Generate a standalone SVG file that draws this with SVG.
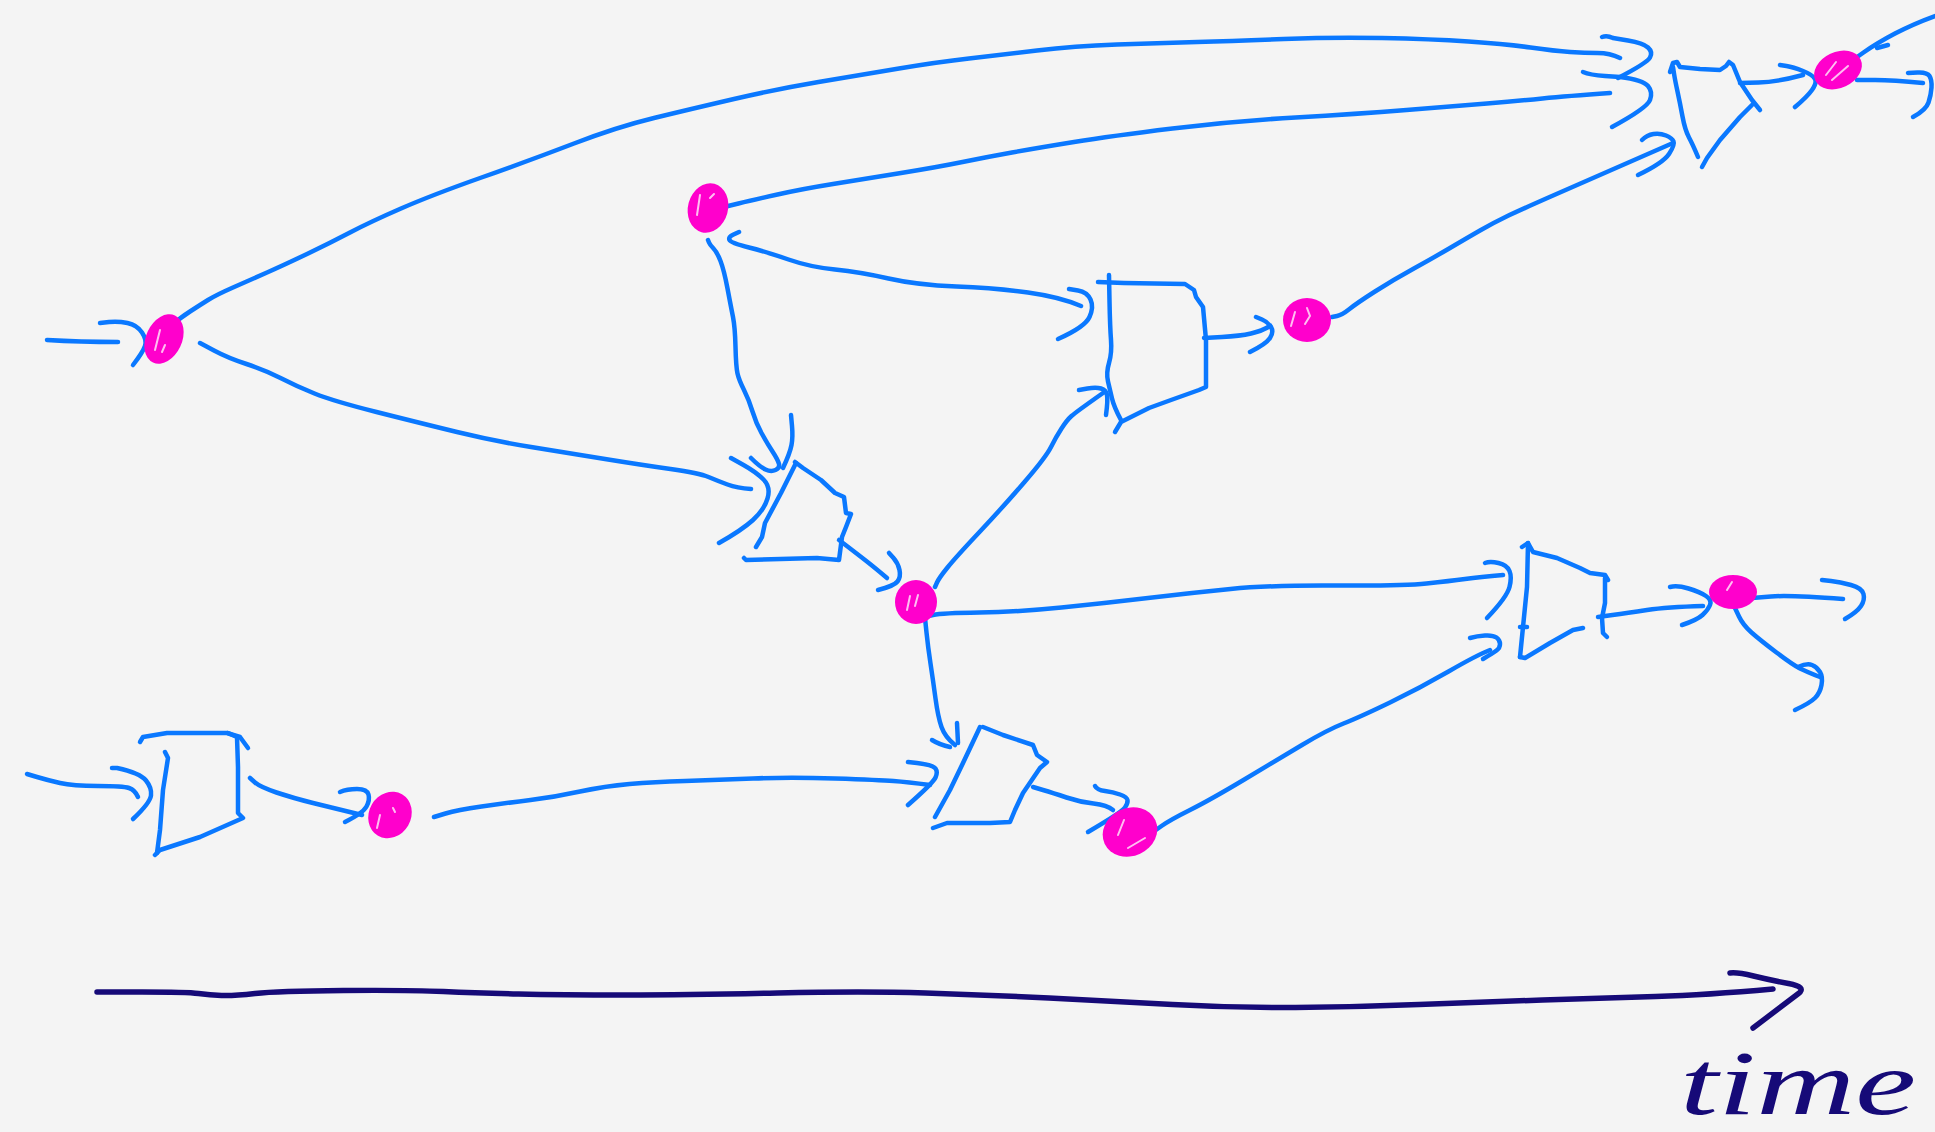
<svg xmlns="http://www.w3.org/2000/svg" width="1935" height="1132" viewBox="0 0 1935 1132">
<style>
.s{fill:none;stroke:#0a78ff;stroke-width:4.5;stroke-linecap:round;stroke-linejoin:round}
.n{fill:#ff00cc}
.h{fill:none;stroke:#ffffff;stroke-width:2;stroke-linecap:round;opacity:.75}
.t{fill:none;stroke:#160a78;stroke-width:5.5;stroke-linecap:round;stroke-linejoin:round}
</style>
<rect width="1935" height="1132" fill="#f4f4f4"/>

<g id="connectors">
  <path class="s" d="M47,340 Q80,342 118,342"/>
  <path class="s" d="M100,323 L109,322 Q118,321 127.5,323 Q137,325 142,332.5 Q147,340 145,346 Q143,352 133,365"/>
  <path class="s" d="M167,330 L173.5,324 Q180,318 190,311.5 Q200,305 208,300 Q216,295 233,287.5 Q250,280 267,272.5 Q284,265 307,254 Q330,243 350,232.5 Q370,222 401,208.5 Q432,195 481.5,177.5 Q531,160 574,143.5 Q617,127 654,118 Q691,109 734,99 Q777,89 818.5,82 Q860,75 899,68.5 Q938,62 969,58.5 Q1000,55 1037,50.5 Q1074,46 1117,44.5 Q1160,43 1197,42 Q1234,41 1283.5,39 Q1333,37 1382,38 Q1431,39 1468.5,41.5 Q1506,44 1530.5,47.5 Q1555,51 1570,52 Q1585,53 1597.5,53 Q1610,53 1620,58"/>
  <path class="s" d="M1602,37 Q1607,35 1613,38 L1628,40.5 Q1643,43 1648,47.5 Q1653,52 1650,57.5 Q1647,63 1618,78"/>
  <path class="s" d="M724,207 L738.5,203.5 Q753,200 777.5,194.5 Q802,189 833,184 Q864,179 901,173 Q938,167 962.5,162 Q987,157 1012,152.5 Q1037,148 1074,142 Q1111,136 1172.5,128.5 Q1234,121 1295.5,117.5 Q1357,114 1406.5,110 Q1456,106 1487,103.5 Q1518,101 1542.5,98.5 Q1567,96 1610,93"/>
  <path class="s" d="M1583,72 Q1590,75 1605,76 L1620,77 Q1643,80 1648,86 Q1653,92 1650,100 Q1647,108 1612,127"/>
  <path class="s" d="M1332,317 L1337,316 Q1342,315 1349.5,309 Q1357,303 1375,291.5 Q1393,280 1413,269 Q1433,258 1450,248 Q1467,238 1480,230.5 Q1493,223 1506.5,216.5 Q1520,210 1556.5,194 Q1593,178 1673,143"/>
  <path class="s" d="M1642,140 Q1647,135 1653.5,134 Q1660,133 1666,135.5 Q1672,138 1673.5,141.5 Q1675,145 1669,154 Q1663,163 1638,175"/>
  <path class="s" d="M1740,83 L1758.5,82.5 Q1777,82 1803,75"/>
  <path class="s" d="M1780,65 L1786.5,66 Q1793,67 1803,71 Q1813,75 1815,79 Q1817,83 1812,90 Q1807,97 1795,107"/>
  <path class="s" d="M1850,62 L1863.5,52.5 Q1877,43 1895,33.5 Q1913,24 1935,16"/>
  <path class="s" d="M1877,48 L1888,45"/>
  <path class="s" d="M1857,80 L1875,80 Q1893,80 1923,83"/>
  <path class="s" d="M1908,73 L1917.5,72.5 Q1927,72 1929.5,76 Q1932,80 1931.5,87.5 Q1931,95 1928.5,102.5 Q1926,110 1913,117"/>
  <path class="s" d="M200,343 L214,350.5 Q228,358 246.5,364 Q265,370 280.5,378 Q296,386 314.5,393.5 Q333,401 376.5,412 Q420,423 457,432 Q494,441 531,447 Q568,453 605,459 Q642,465 670.5,469 Q699,473 708.5,477 Q718,481 727.5,484.5 Q737,488 751,489"/>
  <path class="s" d="M731,458 L743.5,465 Q756,472 763.5,479.5 Q771,487 767.5,498.5 Q764,510 753,520 Q742,530 719,543"/>
  <path class="s" d="M708,240 L709,242.5 Q710,245 713.5,248.5 Q717,252 720.5,261 Q724,270 727.5,288.5 Q731,307 733,317 Q735,327 735.5,347 Q736,367 737.5,373.5 Q739,380 744,390 Q749,400 752.5,411.5 Q756,423 761.5,433 Q767,443 772.5,451.5 Q778,460 779,464 Q780,468 775.5,470 Q771,472 765.5,469.5 Q760,467 751,458"/>
  <path class="s" d="M791,415 L792,426 Q793,437 791.5,445 Q790,453 783,468"/>
  <path class="s" d="M739,232 L733.5,234.5 Q728,237 729.5,240 Q731,243 749,247.5 Q767,252 788.5,259.5 Q810,267 835,269.5 Q860,272 888.5,278.5 Q917,285 956.5,286.5 Q996,288 1028,292.5 Q1060,297 1081,306"/>
  <path class="s" d="M1069,289 L1078,290.5 Q1087,292 1090.5,299.5 Q1094,307 1089.5,317 Q1085,327 1058,339"/>
  <path class="s" d="M1204,338 L1222,337 Q1240,336 1251,333.5 Q1262,331 1270,326"/>
  <path class="s" d="M1256,317 L1262,319.5 Q1268,322 1271,327 Q1274,332 1270,338 Q1266,344 1250,352"/>
  <path class="s" d="M935,587 L937,582.5 Q939,578 947.5,567.5 Q956,557 979.5,532 Q1003,507 1024.5,482 Q1046,457 1051,447 Q1056,437 1061.5,428.5 Q1067,420 1071.5,416 Q1076,412 1103,393"/>
  <path class="s" d="M1079,390 L1087.5,388.5 Q1096,387 1101,388.5 Q1106,390 1107,395 Q1108,400 1106,415"/>
  <path class="s" d="M839,540 L847.5,546.5 Q856,553 865,560 Q874,567 887,578"/>
  <path class="s" d="M889,553 L893.5,558 Q898,563 899.5,570 Q901,577 897.5,581.5 Q894,586 878,590"/>
  <path class="s" d="M924,617 L933,615 Q942,613 979.5,612.5 Q1017,612 1061.5,607.5 Q1106,603 1148,598 Q1190,593 1230.5,589 Q1271,585 1337,585.5 Q1403,586 1426.5,583.5 Q1450,581 1465,579 Q1480,577 1503,575"/>
  <path class="s" d="M1485,563 Q1490,561 1498.5,563 Q1507,565 1509.5,571 Q1512,577 1509.5,587 Q1507,597 1487,618"/>
  <path class="s" d="M925,618 L926.5,632.5 Q928,647 930.5,663.5 Q933,680 935.5,698.5 Q938,717 941.5,727 Q945,737 955,745"/>
  <path class="s" d="M932,740 Q940,745 950,747"/>
  <path class="s" d="M957,723 L958,743"/>
  <path class="s" d="M27,774 L37,777 Q47,780 60,783 Q73,786 98,786 Q123,786 129,788 Q135,790 138,797"/>
  <path class="s" d="M112,768 L117,768 Q140,773 146,780.5 Q152,788 151,795.5 Q150,803 133,819"/>
  <path class="s" d="M250,778 L255,782.5 Q260,787 276.5,792.5 Q293,798 313,803 Q333,808 362,815"/>
  <path class="s" d="M340,792 Q347,789 357,789 Q367,789 368.5,794.5 Q370,800 366.5,806.5 Q363,813 345,822"/>
  <path class="s" d="M434,817 L445.5,813.5 Q457,810 481.5,806.5 Q506,803 530.5,800 Q555,797 580,791.5 Q605,786 629.5,784 Q654,782 685,781 Q716,780 753,778.5 Q790,777 835,778.5 Q880,780 893.5,781 Q907,782 930,785"/>
  <path class="s" d="M908,762 L917,763 Q933,765 935.5,768.5 Q938,772 935.5,777.5 Q933,783 908,805"/>
  <path class="s" d="M1033,787 L1043,790 Q1053,793 1066.5,797.5 Q1080,802 1093.5,803.5 Q1107,805 1113,810"/>
  <path class="s" d="M1095,786 Q1097,790 1105,791 Q1113,792 1120,794.5 Q1127,797 1127.5,800 Q1128,803 1125,807.5 Q1122,812 1088,832"/>
  <path class="s" d="M1153,832 L1161.5,826 Q1170,820 1190,810 Q1210,800 1243.5,780 Q1277,760 1302,745 Q1327,730 1343.5,723.5 Q1360,717 1390,702.5 Q1420,688 1448.5,671.5 Q1477,655 1490,650"/>
  <path class="s" d="M1470,638 Q1477,636 1485,635.5 Q1493,635 1496.5,637.5 Q1500,640 1500,644 Q1500,648 1496.5,650.5 Q1493,653 1483,659"/>
  <path class="s" d="M1598,617 L1612.5,615 Q1627,613 1647,610 Q1667,607 1703,606"/>
  <path class="s" d="M1670,587 Q1677,585 1688.5,588.5 Q1700,592 1706,596 Q1712,600 1710,605 Q1708,610 1702.5,615 Q1697,620 1682,625"/>
  <path class="s" d="M1752,598 L1771,596.5 Q1790,595 1843,599"/>
  <path class="s" d="M1822,580 L1831,581 Q1840,582 1851,585 Q1862,588 1863.5,594 Q1865,600 1861,606 Q1857,612 1845,619"/>
  <path class="s" d="M1735,608 L1739,616.5 Q1743,625 1751.5,632.5 Q1760,640 1776.5,652.5 Q1793,665 1800,668.5 Q1807,672 1820,677"/>
  <path class="s" d="M1798,667 Q1807,663 1812,665 Q1817,667 1820,672 Q1823,677 1821.5,685 Q1820,693 1815,698 Q1810,703 1795,710"/>
  <path class="t" d="M97,992 L142,992 Q187,992 198.5,993.5 Q210,995 221.5,995.5 Q233,996 255,993.5 Q277,991 343.5,990.5 Q410,990 443.5,991.5 Q477,993 518.5,994 Q560,995 625.5,995 Q691,995 777.5,993 Q864,991 925.5,993 Q987,995 1049,998 Q1111,1001 1172.5,1004.5 Q1234,1008 1295.5,1007.5 Q1357,1007 1419,1004.5 Q1481,1002 1542.5,1000 Q1604,998 1655.5,996.5 Q1707,995 1773,989"/>
  <path class="t" d="M1730,973 Q1737,972 1753.5,976 Q1770,980 1788.5,983.5 Q1807,987 1798.5,993.5 Q1790,1000 1753,1028"/>
</g>

<g id="gate-topright">
  <path class="s" d="M1673,67 L1674,73.5 Q1675,80 1677.5,91.5 Q1680,103 1682.5,116.5 Q1685,130 1689,137.5 Q1693,145 1698,157"/>
  <path class="s" d="M1670,72 L1673,63 L1677,62 L1680,67 L1700,69 L1720,70 L1726,66 L1729,62 L1733,65 L1740,82 L1752,100 L1760,110"/>
  <path class="s" d="M1752,105 L1740,117 L1720,140 L1707,158 L1702,167"/>
</g>
<g id="gate1">
  <path class="s" d="M1109,275 L1109.5,301 Q1110,327 1111,340 Q1112,353 1109,363 Q1106,373 1108,381.5 Q1110,390 1112,398.5 Q1114,407 1121,420"/>
  <path class="s" d="M1098,282 L1124,283 L1185,284 L1194,290 L1196,297 L1203,307 L1206,340 L1206,387 L1199,390 L1171,400 L1149,408 L1121,422 L1115,432"/>
</g>
<g id="gate2">
  <path class="s" d="M796,463 L781,493 L765,523 L762,537 L756,547"/>
  <path class="s" d="M795,462 L803,468 L821,480 L835,493 L844,497 L846,513 L851,514 L846,527 L842,537 L839,560 L817,558 L746,560 L744,558"/>
</g>
<g id="gate3">
  <path class="s" d="M980,727 L963,763 L950,790 L935,817"/>
  <path class="s" d="M983,727 L1003,735 L1033,745 L1037,755 L1047,762 L1040,768 L1023,793 L1015,810 L1010,822 L990,823 L947,823 L933,828"/>
</g>
<g id="gate4">
  <path class="s" d="M1528,543 L1527,587 L1523,627 L1520,657"/>
  <path class="s" d="M1522,547 L1528,543 L1533,552 L1557,558 L1580,568 L1590,573 L1605,575 L1608,580"/>
  <path class="s" d="M1605,578 L1605,603 L1602,618 L1603,633 L1607,637"/>
  <path class="s" d="M1520,657 L1525,658 L1550,643 L1573,630 L1583,628"/>
  <path class="s" d="M1520,627 L1527,627"/>
</g>
<g id="gate5">
  <path class="s" d="M140,742 L143,737 L167,733 L227,733 L240,737 L248,748"/>
  <path class="s" d="M228,733 L237,737 L238,767 L238,813 L243,818 L200,837 L160,850 L155,855"/>
  <path class="s" d="M165,752 L168,758 L163,790 L160,830 L157,853"/>
</g>

<g id="node-A">
  <ellipse class="n" cx="164" cy="339" rx="18" ry="26" transform="rotate(25 164 339)"/>
  <path class="h" d="M160,330 L155,350 M165,345 L162,352"/>
</g>
<g id="node-B">
  <ellipse class="n" cx="708" cy="208" rx="20" ry="25" transform="rotate(15 708 208)"/>
  <path class="h" d="M700,195 L697,215 M710,198 L714,194"/>
</g>
<g id="node-C">
  <ellipse class="n" cx="1307" cy="320" rx="24" ry="22"/>
  <path class="h" d="M1295,312 L1291,326 M1307,308 L1310,316 L1305,324"/>
</g>
<g id="node-D">
  <ellipse class="n" cx="1838" cy="70" rx="25" ry="18" transform="rotate(-25 1838 70)"/>
  <path class="h" d="M1826,75 L1836,62 M1832,80 L1848,66"/>
</g>
<g id="node-E">
  <ellipse class="n" cx="916" cy="602" rx="21" ry="22"/>
  <path class="h" d="M910,596 L907,610 M918,595 L915,606"/>
</g>
<g id="node-F">
  <ellipse class="n" cx="1733" cy="592" rx="24" ry="17"/>
  <path class="h" d="M1727,590 L1732,582"/>
</g>
<g id="node-G">
  <ellipse class="n" cx="390" cy="815" rx="21" ry="24" transform="rotate(30 390 815)"/>
  <path class="h" d="M380,815 L377,828 M393,808 L395,812"/>
</g>
<g id="node-H">
  <ellipse class="n" cx="1130" cy="832" rx="28" ry="24" transform="rotate(-25 1130 832)"/>
  <path class="h" d="M1118,835 L1124,820 M1128,848 L1145,838"/>
</g>

<g id="label-time">
  <text x="1680" y="1114" font-family="Liberation Serif, serif" font-style="italic" font-size="92" textLength="236" lengthAdjust="spacingAndGlyphs" fill="#160a78">time</text>
</g>
</svg>
